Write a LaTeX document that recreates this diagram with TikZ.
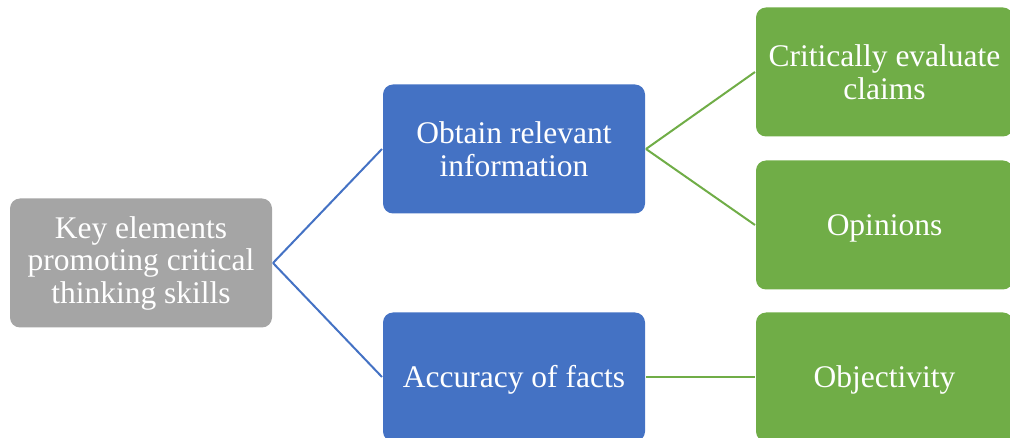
\documentclass[tikz,border=0pt]{standalone}
\usepackage{fontspec}
\setmainfont{Liberation Serif}
\usepackage{tikz}
\usetikzlibrary{positioning}

\definecolor{keygray}{HTML}{A5A5A5}
\definecolor{stepblue}{HTML}{4472C4}
\definecolor{leafgreen}{HTML}{70AD47}

\begin{document}
\begin{tikzpicture}[x=1pt,y=-1pt,node distance=109pt,
                    box/.style={rounded corners=10pt,inner sep=0pt,text=white,
                                align=center,minimum height=129pt,
                                font=\fontsize{31.5}{32.5}\selectfont,
                                execute at begin node={\rule{0pt}{28pt}}},
                    keybox/.style={box,fill=keygray,minimum width=262pt},
                    midbox/.style={box,fill=stepblue,minimum width=262pt},
                    leafbox/.style={box,fill=leafgreen,minimum width=257pt},
                    line width=2pt]
  \useasboundingbox (0,0) rectangle (1010,438);
  \clip (0,0) rectangle (1010,438);

  \node[keybox]  (K)  at (141,263)                  {Key elements\\promoting critical\\thinking skills};
  \node[midbox]  (O)  [right=of K, yshift=114pt]    {Obtain relevant\\information};
  \node[midbox]  (A)  [right=of K, yshift=-114pt]   {Accuracy of facts};
  \node[leafbox] (C)  [right=of O, yshift=77pt]     {Critically evaluate\\claims};
  \node[leafbox] (Op) [right=of O, yshift=-76pt]    {Opinions};
  \node[leafbox] (Ob) [right=of A]                  {Objectivity};

  \path[draw=stepblue] (K.east) edge (O.west)
                                edge (A.west);
  \path[draw=leafgreen] (O.east) edge (C.west)
                                 edge (Op.west)
                        (A.east) edge (Ob.west);

\end{tikzpicture}
\end{document}
